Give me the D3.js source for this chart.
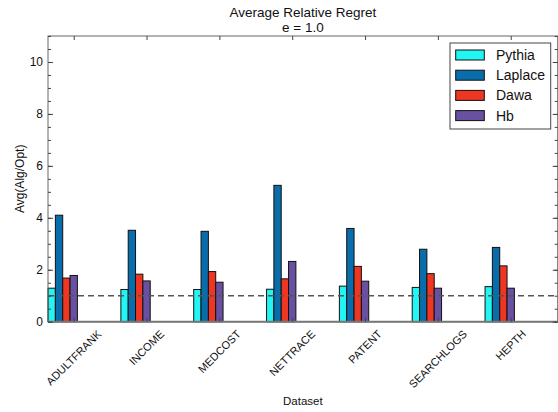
<!DOCTYPE html>
<html lang="en">
<head>
  <meta charset="UTF-8">
  <title>Average Relative Regret</title>
  <script src="https://cdn.jsdelivr.net/npm/d3@7"></script>
  <style>
    body { margin: 0; background: #fff; }
    text { font-family: "Liberation Sans", Arial, Helvetica, sans-serif; fill: #111; }
  </style>
</head>
<body>

<script>
  var datasets = ['ADULTFRANK', 'INCOME', 'MEDCOST', 'NETTRACE', 'PATENT', 'SEARCHLOGS', 'HEPTH'];
  var seriesNames = ['Pythia', 'Laplace', 'Dawa', 'Hb'];
  var seriesColors = ['#22f5f2', '#0a6dab', '#ee3623', '#6950a1'];
  var pythia  = [1.29, 1.24, 1.24, 1.25, 1.37, 1.32, 1.35];
  var laplace = [4.10, 3.52, 3.48, 5.25, 3.59, 2.79, 2.86];
  var dawa    = [1.68, 1.83, 1.93, 1.65, 2.13, 1.85, 2.15];
  var hb      = [1.78, 1.57, 1.52, 2.32, 1.56, 1.29, 1.29];
  var yTicks = [0, 2, 4, 6, 8, 10];
  var baseline = 1;

  var series = [pythia, laplace, dawa, hb];

  var W = 558, H = 412;
  var pL = 48, pR = 557.7, pT = 36, pB = 321.7;

  var svg = d3.select('body').append('svg').attr('width', W).attr('height', H);

  var x = d3.scaleLinear().domain([0.647, 7.645]).range([pL, pR]);
  var y = d3.scaleLinear().domain([0, 11]).range([pB, pT]);
  var bw = 0.1007; // bar width in x units

  // bars
  var rows = [];
  datasets.forEach(function(name, i){
    series.forEach(function(vals, j){
      rows.push({cat: i + 1, s: j, v: vals[i]});
    });
  });

  svg.append('g').selectAll('rect').data(rows).enter().append('rect')
    .attr('x', function(d){ return x(d.cat + (d.s - 3.5) * bw); })
    .attr('width', function(d){ return x(d.cat + (d.s - 2.5) * bw) - x(d.cat + (d.s - 3.5) * bw); })
    .attr('y', function(d){ return y(d.v); })
    .attr('height', function(d){ return y(0) - y(d.v); })
    .attr('fill', function(d){ return seriesColors[d.s]; })
    .attr('stroke', '#111')
    .attr('stroke-width', 1);

  // dashed reference line
  svg.append('line')
    .attr('x1', pL).attr('x2', pR)
    .attr('y1', y(baseline)).attr('y2', y(baseline))
    .attr('stroke', '#555').attr('stroke-width', 1.5)
    .attr('stroke-dasharray', '6,4');

  // frame
  svg.append('rect')
    .attr('x', pL).attr('y', pT)
    .attr('width', pR - pL).attr('height', pB - pT)
    .attr('fill', 'none').attr('stroke', '#666').attr('stroke-width', 1);
  svg.append('line')
    .attr('x1', pL).attr('x2', pR).attr('y1', pB).attr('y2', pB)
    .attr('stroke', '#777').attr('stroke-width', 2);

  // y axes (ticks inside)
  var minor = d3.range(0, 11.01, 0.5);
  svg.append('g').attr('transform', 'translate(' + pL + ',0)')
    .call(d3.axisRight(y).tickValues(minor).tickSize(3).tickFormat(''));
  svg.append('g').attr('transform', 'translate(' + pR + ',0)')
    .call(d3.axisLeft(y).tickValues(minor).tickSize(3).tickFormat(''));
  svg.append('g').attr('transform', 'translate(' + pL + ',0)')
    .call(d3.axisRight(y).tickValues(yTicks).tickSize(5).tickFormat(''));
  svg.append('g').attr('transform', 'translate(' + pR + ',0)')
    .call(d3.axisLeft(y).tickValues(yTicks).tickSize(5).tickFormat(''));

  var catTicks = datasets.map(function(d, i){ return i + 1; });
  svg.append('g').attr('transform', 'translate(0,' + pT + ')')
    .call(d3.axisBottom(x).tickValues(catTicks).tickSize(4).tickFormat(''));
  svg.append('g').attr('transform', 'translate(0,' + pB + ')')
    .call(d3.axisTop(x).tickValues(catTicks).tickSize(4).tickFormat(''));

  svg.selectAll('.domain').remove();
  svg.selectAll('.tick line').attr('stroke', '#444');

  // y tick labels
  svg.append('g').selectAll('text').data(yTicks).enter().append('text')
    .attr('x', 43).attr('y', function(d){ return y(d); })
    .attr('dy', '0.35em')
    .attr('text-anchor', 'end')
    .style('font-size', '12px')
    .text(function(d){ return d; });

  // x tick labels, rotated
  var xl = svg.append('g').selectAll('text').data(datasets).enter().append('text')
    .attr('text-anchor', 'middle')
    .attr('dy', '0.35em')
    .style('font-size', '11px')
    .text(function(d){ return d; });
  xl.attr('transform', function(d, i){
    var L = this.getComputedTextLength();
    return 'translate(' + x(i + 1) + ',' + (332 + L * 0.354) + ') rotate(-45)';
  });

  // titles
  svg.append('text').attr('x', (pL + pR) / 2).attr('y', 17)
    .attr('text-anchor', 'middle').style('font-size', '13.5px')
    .text('Average Relative Regret');
  svg.append('text').attr('x', (pL + pR) / 2).attr('y', 32)
    .attr('text-anchor', 'middle').style('font-size', '13.5px')
    .text('e = 1.0');
  svg.append('text').attr('x', (pL + pR) / 2).attr('y', 405)
    .attr('text-anchor', 'middle').style('font-size', '11.5px')
    .text('Dataset');
  svg.append('text')
    .attr('transform', 'translate(24,' + ((pT + pB) / 2) + ') rotate(-90)')
    .attr('text-anchor', 'middle').style('font-size', '12px')
    .text('Avg(Alg/Opt)');

  // legend
  var lg = svg.append('g').attr('transform', 'translate(450,43)');
  lg.append('rect').attr('width', 100.7).attr('height', 86)
    .attr('fill', '#fff').attr('stroke', '#444').attr('stroke-width', 1);
  var item = lg.selectAll('g.item').data(seriesNames).enter().append('g')
    .attr('class', 'item')
    .attr('transform', function(d, i){ return 'translate(0,' + (12 + i * 20.2) + ')'; });
  item.append('rect').attr('x', 5.7).attr('y', -5).attr('width', 28.6).attr('height', 10)
    .attr('fill', function(d, i){ return seriesColors[i]; })
    .attr('stroke', '#111').attr('stroke-width', 1);
  item.append('text').attr('x', 46).attr('dy', '0.35em')
    .style('font-size', '14px')
    .text(function(d){ return d; });
</script>

</body>
</html>
